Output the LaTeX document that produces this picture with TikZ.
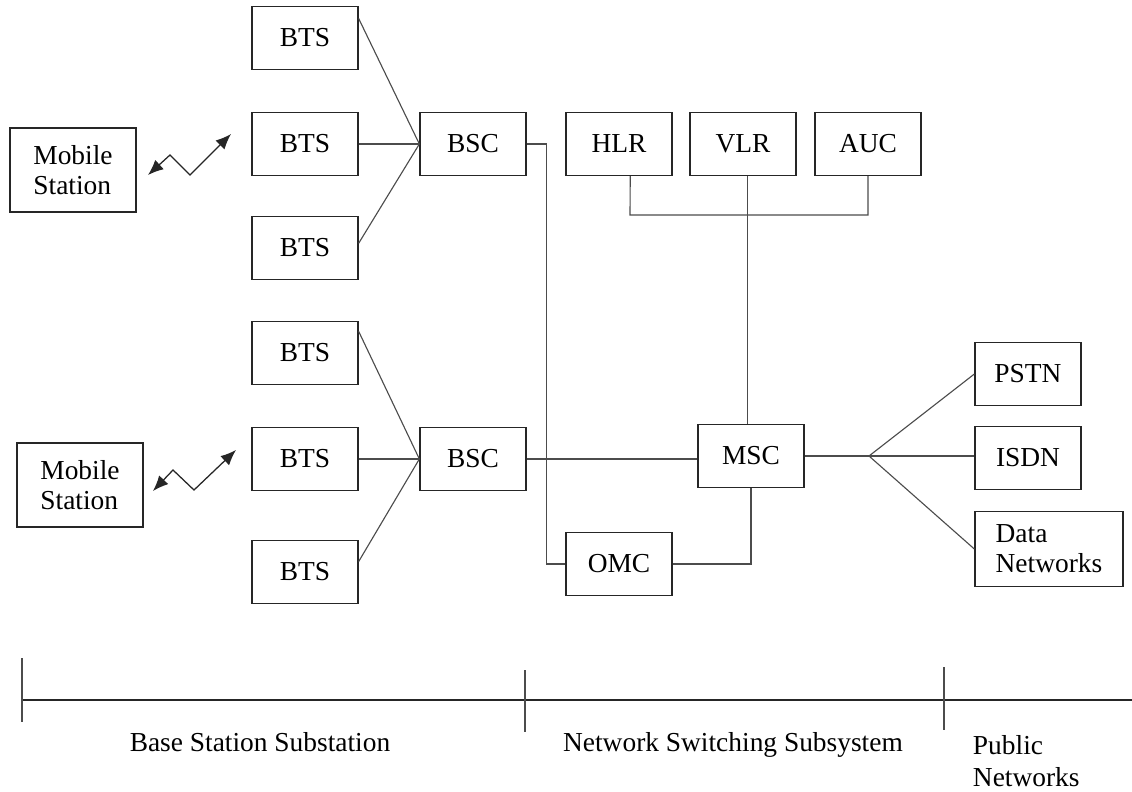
\documentclass[tikz,border=0pt]{standalone}
\usepackage{fontspec}
\setmainfont{Liberation Serif}
\usetikzlibrary{arrows.meta}

\tikzset{
  unit/.style={draw=black!85, line width=0.9pt, minimum width=2.65cm,
    minimum height=1.575cm, inner sep=0pt, font=\fontsize{19.5}{21.5}\selectfont},
  handset/.style={unit, minimum width=3.15cm, minimum height=2.1cm, align=left},
  link/.style={draw=black!70, line width=0.8pt},
  radio/.style={black!85, line width=0.9pt, {Latex[length=11pt,width=9pt]}-{Latex[length=11pt,width=9pt]}},
  caption/.style={font=\fontsize{19.5}{22.5}\selectfont}
}

\begin{document}
\begin{tikzpicture}[x=0.025cm, y=-0.025cm]

    % Canvas, in pixel units of the original picture
    \useasboundingbox (0,0) rectangle (1132,791);

    % Upper radio cell
    \node[handset] (ms1) at (73,170) {Mobile\\Station};
    \node[unit] (bts1) at (305,38) {BTS};
    \node[unit] (bts2) at (305,144) {BTS};
    \node[unit] (bts3) at (305,248) {BTS};
    \node[unit] (bsc1) at (473,144) {BSC};

    % Lower radio cell
    \node[handset] (ms2) at (80,485) {Mobile\\Station};
    \node[unit] (bts4) at (305,353) {BTS};
    \node[unit] (bts5) at (305,459) {BTS};
    \node[unit] (bts6) at (305,572) {BTS};
    \node[unit] (bsc2) at (473,459) {BSC};

    % Switching part
    \node[unit] (hlr) at (619,144) {HLR};
    \node[unit] (vlr) at (743,144) {VLR};
    \node[unit] (auc) at (868,144) {AUC};
    \node[unit] (msc) at (751,456) {MSC};
    \node[unit] (omc) at (619,564) {OMC};

    % Public networks
    \node[unit] (pstn) at (1028,374) {PSTN};
    \node[unit] (isdn) at (1028,458) {ISDN};
    \node[unit, minimum width=3.7cm, minimum height=1.875cm, align=left] (data) at (1049,549) {Data\\Networks};

    % Radio links (zigzag with two heads)
    \coordinate (r1a) at (148,175);
    \coordinate (r1b) at (231,134);
    \coordinate (r2a) at (153,491);
    \coordinate (r2b) at (236,450);
    \draw[radio] (r1a) -- (170,155) -- (190,175) -- (r1b);
    \draw[radio] (r2a) -- (173,470) -- (194,490) -- (r2b);

    % BTS to BSC
    \draw[link] (bts1.20) -- (bsc1.west);
    \draw[link] (bts2.east) -- (bsc1.west);
    \draw[link] (bts3.5) -- (bsc1.west);
    \draw[link] (bts4.22) -- (bsc2.west);
    \draw[link] (bts5.east) -- (bsc2.west);
    \draw[link] (bts6.11) -- (bsc2.west);

    % BSC to MSC and OMC
    \draw[link] (bsc1.east) -- ++(20,0) |- (omc.west);
    \draw[link] (bsc2.east) -- (bsc2.east -| msc.west);
    \draw[link] (omc.east) -| (msc.south);

    % Registers bus
    \coordinate (bus) at (630,215);
    \draw[link] ([xshift=8pt]hlr.south) -- (bus) -| (auc.south);
    \draw[link] ([xshift=3pt]vlr.south) -- ([xshift=3pt]vlr.south |- msc.north);

    % MSC fan out to public networks
    \coordinate (fork) at (869,456);
    \draw[link] (msc.east) -- (fork);
    \draw[link] (fork) -- (pstn.west);
    \draw[link] (fork) -- (fork -| isdn.west);
    \draw[link] (fork) -- (data.west);

    % Subsystem scale at the bottom
    \coordinate (s0) at (22,700);
    \coordinate (s1) at (525,700);
    \coordinate (s2) at (944,700);
    \coordinate (s3) at (1132,700);
    \draw[link, black!85] (s0) -- (s3);
    \draw[link] ([yshift=1.05cm]s0) -- ([yshift=-0.55cm]s0);
    \draw[link] ([yshift=0.75cm]s1) -- ([yshift=-0.8cm]s1);
    \draw[link] ([yshift=0.82cm]s2) -- ([yshift=-0.75cm]s2);

    \node[caption] (bss) at (260,742) {Base Station Substation};
    \node[caption] (nss) at (733,745) {Network Switching Subsystem};
    \node[caption, anchor=west, align=left] (pub) at (968,761) {Public\\Networks};

\end{tikzpicture}
\end{document}
